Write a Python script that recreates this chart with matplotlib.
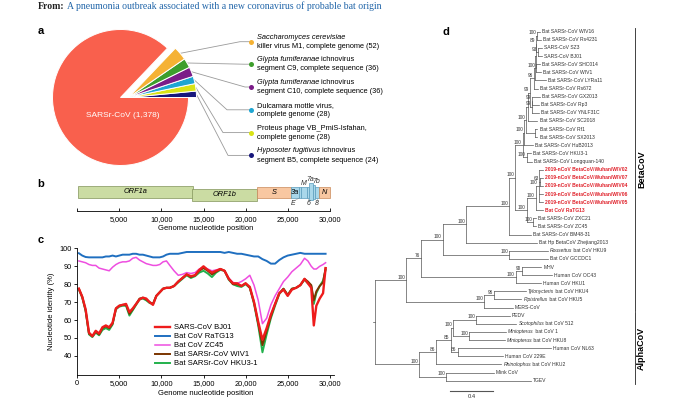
import matplotlib
matplotlib.use('Agg')
import matplotlib.pyplot as plt
from matplotlib.patches import Rectangle
import numpy as np

plt.rcParams['font.family'] = ['Liberation Sans', 'DejaVu Sans']
plt.rcParams['axes.linewidth'] = 0.6

W, H = 690, 409


def rect(x0, y0, x1, y1):
    # pixel box (top-left origin) -> figure fraction
    return [x0 / W, 1 - y1 / H, (x1 - x0) / W, (y1 - y0) / H]


# ---------------- data ----------------
title_from = 'From:'
title_link = 'A pneumonia outbreak associated with a new coronavirus of probable bat origin'

pie_main_name = 'SARSr-CoV'
pie_main_count = 1378
pie_italic = ['Saccharomyces cerevisiae', 'Glypta fumiferanae', 'Glypta fumiferanae',
              '', '', 'Hyposoter fugitivus']
pie_rest1 = ['', ' ichnovirus', ' ichnovirus', 'Dulcamara mottle virus,',
             'Proteus phage VB_PmiS-Isfahan,', ' ichnovirus']
pie_line2 = ['killer virus M1, complete genome', 'segment C9, complete sequence',
             'segment C10, complete sequence', 'complete genome', 'complete genome',
             'segment B5, complete sequence']
pie_counts = [52, 36, 36, 28, 28, 24]

genes = ['ORF1a', 'ORF1b', 'S', '3a', 'E', 'M', '6', '7a', '7b', '8', 'N']
gene_start = [100, 13600, 21400, 25360, 26300, 26550, 27300, 27550, 28000, 28250, 28700]
gene_end = [13800, 21400, 25360, 26300, 26550, 27300, 27550, 28000, 28250, 28700, 30000]

pos = [200, 600, 1000, 1400, 1800, 2200, 2600, 3000, 3400, 3800,
       4200, 4600, 5000, 5400, 5800, 6200, 6600, 7000, 7400, 7800,
       8200, 8600, 9000, 9400, 9800, 10200, 10600, 11000, 11500, 12000,
       12500, 13000, 13500, 14000, 14500, 15000, 15500, 16000, 16500, 17000,
       17500, 18000, 18500, 19000, 19500, 20000, 20500, 21000, 21500, 22000,
       22500, 23000, 23500, 24000, 24500, 25000, 25500, 26000, 26500, 27000,
       27400, 27800, 28100, 28400, 28800, 29200, 29500]
bj01 = [77.5, 73, 66, 53, 51, 54, 52.5, 56, 57, 56,
        58.5, 66.5, 68, 68.5, 69, 64.5, 66.5, 69, 71.5, 72.5,
        72, 70, 68.5, 73.5, 75.5, 77.5, 78, 78, 79, 81.5,
        83.5, 85.5, 84.5, 85, 88, 90, 88, 86.5, 87.5, 88.5,
        87.5, 83, 80.5, 80.5, 79, 80.5, 78.5, 70, 59, 49,
        55.5, 63, 69, 75, 77, 73.5, 77, 78, 79.5, 83,
        80.5, 78, 57, 68, 72, 75, 89]
ratg13 = [97.3, 96, 95.2, 95, 95, 95, 95, 95, 95.5, 95.5,
          96, 95.5, 96, 96.5, 96.5, 96.5, 97, 97, 96.5, 96.5,
          96, 95.5, 95, 95, 95, 95.5, 96.5, 97, 97, 97,
          97.5, 98, 98, 98, 98, 98, 98, 98, 98, 98,
          97.5, 98, 97.5, 97, 97, 96.5, 96, 95.5, 95.5, 94,
          93, 91.5, 91.5, 93.5, 95, 96, 96.5, 97, 97.5, 97,
          97, 97, 97, 97, 97, 97, 97]
zc45 = [93, 92.5, 92, 91, 90.5, 90.5, 89, 88.5, 88, 87.5,
        89.5, 91, 92, 92.5, 92.5, 93, 94.5, 95, 93.5, 92.5,
        91.5, 91, 90.5, 90.5, 91, 92.5, 93, 90.5, 87.5, 85,
        85.5, 86.5, 86, 86.5, 88.5, 89.5, 88.5, 87.5, 88, 88.5,
        87.5, 83.5, 81, 80.5, 81.5, 83, 85, 79.5, 71, 58,
        61, 68.5, 73.5, 77.5, 81.5, 84, 87, 89, 91, 94.5,
        93, 90, 88.5, 88.5, 90, 91, 92]
wiv1 = [77.5, 73, 65.5, 52.5, 51, 53.5, 52, 55.5, 56.5, 55.5,
        58, 66.5, 68, 68.5, 68.5, 63.5, 66, 69, 72, 72.5,
        71.5, 70, 69, 73.5, 75.5, 77.5, 78, 78, 79, 81.5,
        83.5, 85.5, 84, 85, 87.5, 89, 87.5, 85.5, 87, 88.5,
        87.5, 83, 80, 80, 79, 80.5, 78, 70, 58, 46,
        54, 62, 69, 75, 77.5, 74, 77.5, 78, 79.5, 83,
        81.5, 79.5, 71, 76, 79, 81, 89]
hku3 = [77, 72.5, 65, 52, 50.5, 53, 51.5, 54.5, 55.5, 54.5,
        57.5, 66, 67.5, 68, 68, 62.5, 65.5, 68.5, 71.5, 72,
        71, 69.5, 69, 73.5, 75.5, 77.5, 78, 78, 79, 81,
        83, 85, 83.5, 84.5, 86.5, 87.5, 86, 84, 86.5, 88,
        87.5, 82.5, 80, 79, 78.5, 80, 78, 69, 57, 42,
        52, 61, 68, 74.5, 77.5, 74, 77.5, 78, 79.5, 82.5,
        80.5, 79, 69, 75, 79, 82, 88]
series_names = ['SARS-CoV BJ01', 'Bat CoV RaTG13', 'Bat CoV ZC45',
                'Bat SARSr-CoV WIV1', 'Bat SARSr-CoV HKU3-1']
series_values = [bj01, ratg13, zc45, wiv1, hku3]


# tree: leaf = (name, depth), node = (depth, support, [children]); depth in subst./site
def L(name, d):
    return (name, d)


def N(d, s, *kids):
    return (d, s, list(kids))


nc = '2019-nCoV BetaCoV/Wuhan/'
tree = N(0.0, None,
  N(0.286, 100,
    N(0.425, 76,
      N(0.625, 100,
        N(0.84, 100,
          N(1.237, 100,
            N(1.293, 100,
              N(1.362, 100,
                N(1.38, 100,
                  N(1.394, 100,
                    N(1.41, None,
                      N(1.43, 99,
                        N(1.465, 96,
                          N(1.475, None,
                            N(1.482, None,
                              N(1.487, 89,
                                N(1.50, 100, L('Bat SARSr-CoV WIV16', 1.523), L('Bat SARSr-CoV Rs4231', 1.533)),
                                N(1.505, 93, L('SARS-CoV SZ3', 1.542), L('SARS-CoV BJ01', 1.542))),
                              N(1.49, 100, L('Bat SARSr-CoV SHC014', 1.523), L('Bat SARSr-CoV WIV1', 1.53))),
                            L('Bat SARSr-CoV LYRa11', 1.579)),
                          L('Bat SARSr-CoV Rs672', 1.505)),
                        N(1.447, 99,
                          N(1.452, 99, L('Bat SARSr-CoV GX2013', 1.52), L('Bat SARSr-CoV Rp3', 1.51)),
                          L('Bat SARSr-CoV YNLF31C', 1.51))),
                      L('Bat SARSr-CoV SC2018', 1.5)),
                    N(1.477, None, L('Bat SARSr-CoV Rf1', 1.5), L('Bat SARSr-CoV SX2013', 1.5))),
                  L('Bat SARSr-CoV HuB2013', 1.459)),
                N(1.40, 100, L('Bat SARSr-CoV HKU3-1', 1.438), L('Bat SARSr-CoV Longquan-140', 1.45))),
              N(1.40, 100,
                N(1.483, 100,
                  N(1.51, 100, L(nc + 'WIV02', 1.551),
                    N(1.528, 63, L(nc + 'WIV07', 1.551), L(nc + 'WIV04', 1.551)),
                    L(nc + 'WIV06', 1.551), L(nc + 'WIV05', 1.551)),
                  L('Bat CoV RaTG13', 1.551)),
                N(1.462, 100, L('Bat SARSr-CoV ZXC21', 1.49), L('Bat SARSr-CoV ZC45', 1.49)))),
            L('Bat SARSr-CoV BM48-31', 1.438)),
          L('Bat Hp BetaCoV Zhejiang2013', 1.499)),
        N(1.237, 100, L('Rousettus bat CoV HKU9', 1.597), L('Bat CoV GCCDC1', 1.597))),
      N(1.30, 100,
        N(1.357, 90, L('MHV', 1.536), L('Human CoV OC43', 1.637)),
        L('Human CoV HKU1', 1.53))),
    N(1.006, 100,
      N(1.099, 96, L('Tylonycteris bat CoV HKU4', 1.392), L('Pipistrellus bat CoV HKU5', 1.351)),
      L('MERS-CoV', 1.274))),
  N(0.409, 100,
    N(0.563, 86,
      N(0.70, 85,
        N(0.72, 100,
          N(0.933, 100, L('PEDV', 1.244), L('Scotophilus bat CoV 512', 1.305)),
          N(0.868, 100, L('Miniopterus bat CoV 1', 1.212), L('Miniopterus bat CoV HKU8', 1.198))),
        N(0.762, 86, L('Human CoV NL63', 1.628), L('Human CoV 229E', 1.182))),
      L('Rhinolophus bat CoV HKU2', 1.166)),
    N(0.656, 100, L('Mink CoV', 1.099), L('TGEV', 1.438))))

clades = [('BetaCoV', 'Bat SARSr-CoV WIV16', 'MERS-CoV'),
          ('AlphaCoV', 'PEDV', 'TGEV')]
italic_genera = ['Rousettus', 'Tylonycteris', 'Pipistrellus', 'Scotophilus',
                 'Miniopterus', 'Rhinolophus']

# ---------------- styles ----------------
red_main = '#f9604d'
pie_colors = ['#f5b234', '#3d9e2c', '#7b1c88', '#1ea6d2', '#d9e316', '#17177c']
series_colors = ['#ee1c1c', '#1f6fc0', '#ee4ee0', '#7b3500', '#22b14c']
series_lw = [1.7, 1.4, 1.1, 1.4, 1.4]
draw_order = [2, 1, 4, 3, 0]
tree_col = '#555555'
hl_col = '#e0222b'

fig = plt.figure(figsize=(W / 100, H / 100), dpi=100)

# overlay in pixel coordinates for text and leader lines
ov = fig.add_axes([0, 0, 1, 1])
ov.set_xlim(0, W)
ov.set_ylim(H, 0)
ov.axis('off')

t = ov.text(38, 9.3, title_from, fontsize=7, fontweight='bold', color='#222222',
            family=['Liberation Serif', 'DejaVu Serif'], va='baseline')
ov.annotate(' ' + title_link, xy=(1, 0), xycoords=t, va='bottom', ha='left',
            fontsize=7, color='#1f64a8', family=['Liberation Serif', 'DejaVu Serif'])

for lab, (x, y) in zip('abcd', [(41, 31), (41, 184), (41, 240), (446, 32)]):
    ov.text(x, y, lab, fontsize=8, fontweight='bold', ha='center', va='center')

# ---------------- a: pie ----------------
PIE_CX, PIE_CY, PIE_R = 120.5, 97.5, 68
PIE_SHIFT = 8 / PIE_R
ax_a = fig.add_axes(rect(PIE_CX - PIE_R, PIE_CY - PIE_R, PIE_CX + PIE_R, PIE_CY + PIE_R))
vals = pie_counts[::-1] + [pie_main_count]
cols = pie_colors[::-1] + [red_main]
wedges, _ = ax_a.pie(vals, colors=cols, startangle=0, counterclock=True,
                     wedgeprops=dict(edgecolor='white', linewidth=0.7, clip_on=False))
for w in wedges[:-1]:
    w.set_center((PIE_SHIFT, 0))
ax_a.set_xlim(-1, 1)
ax_a.set_ylim(-1, 1)
ax_a.axis('off')
ax_a.text(0.03, -0.26, f'{pie_main_name} ({pie_main_count:,})', color='white',
          fontsize=6, ha='center', va='center')

label_y = [41.7, 64.2, 87.0, 109.8, 132.6, 155.4]
knee_x = [240, 244, 245, 227, 223, 228]
dot_x, text_x = 250.7, 256.7
small = wedges[:-1][::-1]
for i, w in enumerate(small):
    th = np.deg2rad((w.theta1 + w.theta2) / 2)
    sx = PIE_CX + PIE_SHIFT * PIE_R + PIE_R * np.cos(th)
    sy = PIE_CY - PIE_R * np.sin(th)
    ly = label_y[i]
    ov.plot([sx, knee_x[i], dot_x], [sy, ly, ly], color='#9a9a9a', lw=0.6)
    ov.plot(dot_x, ly, 'o', ms=3.6, color=pie_colors[i], mec='none')
    y1, y2 = ly - 4.6, ly + 4.6
    if pie_italic[i]:
        t1 = ov.text(text_x, y1, pie_italic[i], fontsize=5.3, style='italic', va='center')
        if pie_rest1[i]:
            ov.annotate(pie_rest1[i], xy=(1, 0), xycoords=t1, va='bottom', ha='left', fontsize=5.3)
    else:
        ov.text(text_x, y1, pie_rest1[i], fontsize=5.3, va='center')
    ov.text(text_x, y2, f'{pie_line2[i]} ({pie_counts[i]})', fontsize=5.3, va='center')

# ---------------- b: genome ----------------
X0_PX, X_RIGHT_PX = 77.2, 334
XMAX = (X_RIGHT_PX - X0_PX) * 5000 / 42.1
ax_b = fig.add_axes(rect(X0_PX, 170, X_RIGHT_PX, 210.7))
ax_b.set_xlim(0, XMAX)
ax_b.set_ylim(0, 40.7)
box_fill = {'orf': ('#cbdca3', '#82935a'), 'sn': ('#f8c7a1', '#c9895a'), 'acc': ('#a9d7ea', '#5a9cbc')}
gene_style = {'ORF1a': ('orf', 13.0, 24.7, 'in', 0), 'ORF1b': ('orf', 9.7, 21.7, 'in', 0),
              'S': ('sn', 13.0, 24.0, 'in', 0), '3a': ('acc', 13.0, 24.0, 'in', 0),
              'E': ('acc', 13.0, 24.0, 'below', -750), 'M': ('acc', 13.0, 24.0, 'above', 0),
              '6': ('acc', 13.0, 24.0, 'below', 0), '7a': ('acc', 10.7, 28.0, 'above', -100),
              '7b': ('acc', 12.0, 25.5, 'above', 300), '8': ('acc', 13.0, 24.0, 'below', 0),
              'N': ('sn', 13.0, 24.0, 'in', 0)}
for g, s, e in zip(genes, gene_start, gene_end):
    kind, y0, y1, where, dx = gene_style[g]
    fc, ec = box_fill[kind]
    ax_b.add_patch(Rectangle((s, y0), e - s, y1 - y0, facecolor=fc, edgecolor=ec, lw=0.5))
    cx = (s + e) / 2
    if where == 'in':
        ax_b.text(cx, (y0 + y1) / 2, g, fontsize=5.3, style='italic', ha='center', va='center')
    elif where == 'above':
        ax_b.text(cx + dx, y1 + 3.5, g, fontsize=5, style='italic', ha='center', va='center', color='#333333')
    else:
        ax_b.text(cx + dx, 7.4, g, fontsize=5, style='italic', ha='center', va='center', color='#333333')
        ax_b.plot([cx + dx, cx], [9.5, y0], color='#777777', lw=0.4, ls=(0, (1.5, 1)))
for sp in ['top', 'right', 'left']:
    ax_b.spines[sp].set_visible(False)
ax_b.spines['bottom'].set_bounds(0, 30000)
ax_b.set_yticks([])
ticks = list(range(0, 30001, 5000))
ax_b.set_xticks(ticks)
ax_b.set_xticklabels([''] + [f'{v:,}' for v in ticks[1:]])
ax_b.tick_params(axis='x', direction='in', length=2.5, width=0.6, pad=3.5, labelsize=5.3)
ax_b.set_xlabel('Genome nucleotide position', fontsize=5.5, labelpad=2)

# ---------------- c: identity ----------------
ax_c = fig.add_axes(rect(X0_PX, 248.4, X_RIGHT_PX, 374.7))
for i in draw_order:
    ax_c.plot(pos, series_values[i], color=series_colors[i], lw=series_lw[i],
              label=series_names[i], solid_joinstyle='round')
ax_c.set_xlim(0, XMAX)
ax_c.set_ylim(29.5, 100)
for sp in ['top', 'right']:
    ax_c.spines[sp].set_visible(False)
ax_c.set_xticks(ticks)
ax_c.set_xticklabels([f'{v:,}' for v in ticks])
ax_c.set_yticks(range(40, 101, 10))
ax_c.tick_params(direction='out', length=2.5, width=0.6, pad=1.5, labelsize=5.3)
ax_c.set_xlabel('Genome nucleotide position', fontsize=5.5, labelpad=2)
ax_c.set_ylabel('Nucleotide identity (%)', fontsize=5.5, labelpad=3)
handles, labels = ax_c.get_legend_handles_labels()
order = [labels.index(n) for n in series_names]
ax_c.legend([handles[k] for k in order], [labels[k] for k in order],
            loc='upper left', bbox_to_anchor=(155 / W, 1 - 324 / H), bbox_transform=fig.transFigure,
            frameon=False, fontsize=5.5, handlelength=2.0, handletextpad=0.45,
            labelspacing=0.22, borderpad=0, borderaxespad=0)

# ---------------- d: tree ----------------
ROOT_PX, PX_UNIT, ROW0, ROW_H = 375, 108.3, 31.7, 8.115
ax_d = fig.add_axes(rect(360, 20, 690, 400))
ax_d.set_xlim((360 - ROOT_PX) / PX_UNIT, (690 - ROOT_PX) / PX_UNIT)
ax_d.set_ylim((400 - ROW0) / ROW_H, (20 - ROW0) / ROW_H)
ax_d.axis('off')

leaf_y = {}
counter = [0]


def layout(node):
    if isinstance(node[0], str):
        y = counter[0]
        counter[0] += 1
        leaf_y[node[0]] = y
        return y
    ys = [layout(c) for c in node[2]]
    return (ys[0] + ys[-1]) / 2


def draw(node, y):
    d, sup, kids = node
    kys = []
    for c in kids:
        cy = leaf_y[c[0]] if isinstance(c[0], str) else child_y[id(c)]
        kys.append(cy)
    ax_d.plot([d, d], [kys[0], kys[-1]], color=tree_col, lw=0.5)
    for c, cy in zip(kids, kys):
        cd = c[1] if isinstance(c[0], str) else c[0]
        ax_d.plot([d, cd], [cy, cy], color=tree_col, lw=0.5)
        if isinstance(c[0], str):
            draw_leaf(c[0], cd, cy)
        else:
            draw(c, cy)
    if sup is not None:
        ax_d.annotate(str(sup), (d, y), xytext=(-0.8, 0.3), textcoords='offset points',
                      ha='right', va='bottom', fontsize=3.4, color='#333333')


child_y = {}


def collect(node):
    if isinstance(node[0], str):
        return leaf_y[node[0]]
    ys = [collect(c) for c in node[2]]
    y = (ys[0] + ys[-1]) / 2
    child_y[id(node)] = y
    return y


def draw_leaf(name, d, y):
    kw = dict(textcoords='offset points', va='center', fontsize=3.6, color='#333333')
    if name.startswith('2019-nCoV') or name == 'Bat CoV RaTG13':
        ax_d.annotate(name, (d, y), xytext=(1.5, 0), fontweight='bold', **dict(kw, color=hl_col))
        return
    first = name.split(' ')[0]
    if first in italic_genera:
        t1 = ax_d.annotate(first, (d, y), xytext=(1.5, 0), style='italic', **kw)
        ax_d.annotate(name[len(first):], xy=(1, 0), xycoords=t1, va='bottom', ha='left',
                      fontsize=3.6, color='#333333')
    else:
        ax_d.annotate(name, (d, y), xytext=(1.5, 0), **kw)


layout(tree)
root_y = collect(tree)
draw(tree, root_y)
ax_d.plot([-0.02, 0], [root_y, root_y], color=tree_col, lw=0.5)

bar_x = (635 - ROOT_PX) / PX_UNIT
for name, top, bottom in clades:
    y0, y1 = leaf_y[top] - 0.42, leaf_y[bottom] + 0.42
    ax_d.plot([bar_x, bar_x], [y0, y1], color='#222222', lw=0.6)
    ax_d.text(bar_x + 0.06, (y0 + y1) / 2, name, rotation=90, fontsize=6.5,
              fontweight='bold', ha='center', va='center')

sb_x = (450 - ROOT_PX) / PX_UNIT
sb_y = (390.7 - ROW0) / ROW_H
ax_d.plot([sb_x, sb_x + 0.4], [sb_y, sb_y], color='#555555', lw=0.8)
ax_d.text(sb_x + 0.2, sb_y + 0.35, '0.4', fontsize=4.2, ha='center', va='top', color='#333333')

fig.savefig('out.png', dpi=100)
